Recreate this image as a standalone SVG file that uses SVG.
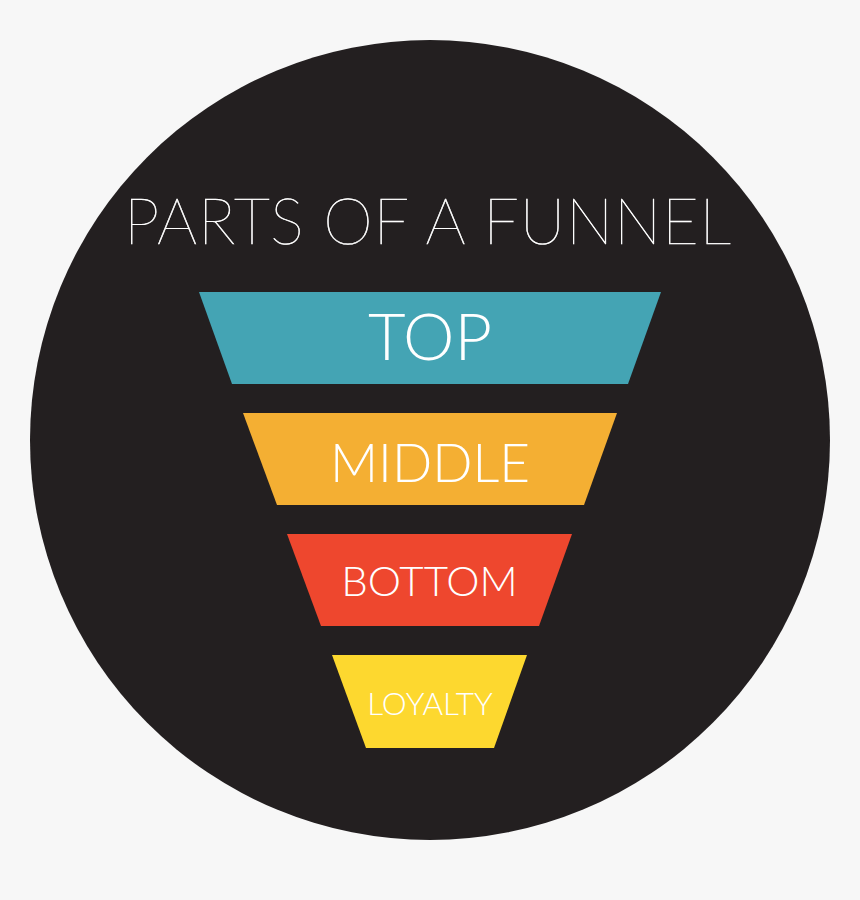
<svg xmlns="http://www.w3.org/2000/svg" width="860" height="900" viewBox="0 0 860 900">
<style>
.lbl{font-family:Lato,"Liberation Sans",sans-serif;fill:#ffffff;text-anchor:middle;font-weight:300}
.title{font-family:Lato,"Liberation Sans",sans-serif;fill:#ffffff;stroke:#ffffff;stroke-width:0.6;text-anchor:middle;font-weight:100}
</style>
<rect x="0" y="0" width="860" height="900" fill="#f7f7f7"/>
<circle cx="430" cy="440" r="400" fill="#231f20"/>
<text class="title" x="427.5" y="244" font-size="63" textLength="607" lengthAdjust="spacing">PARTS OF A FUNNEL</text>
<g id="top">
<polygon points="199,292 661,292 628,384 232,384" fill="#44a4b4"/>
<text class="lbl" x="430" y="360" font-size="65">TOP</text>
</g>
<g id="middle">
<polygon points="243,413 617,413 584,505 277,505" fill="#f4af33"/>
<text class="lbl" x="430" y="482" font-size="53">MIDDLE</text>
</g>
<g id="bottom">
<polygon points="287,534 572,534 539,626 321,626" fill="#ee472e"/>
<text class="lbl" x="429.5" y="596" font-size="42">BOTTOM</text>
</g>
<g id="loyalty">
<polygon points="332,655 527,655 494,748 366,748" fill="#fdd82f"/>
<text class="lbl" x="430" y="715" font-size="31.5">LOYALTY</text>
</g>
<g id="connectors"/>
</svg>
